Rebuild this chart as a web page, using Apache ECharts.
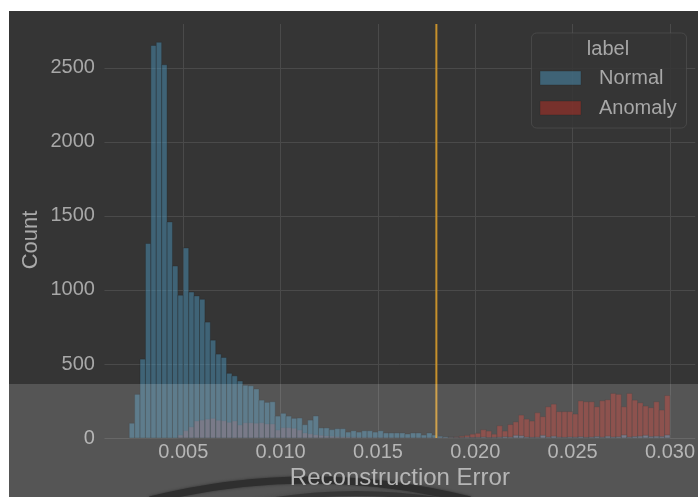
<!DOCTYPE html>
<html>
<head>
<meta charset="utf-8">
<script src="https://cdn.jsdelivr.net/npm/echarts@6/dist/echarts.min.js"></script>
<style>
  html, body { margin: 0; padding: 0; background: #ffffff; }
  #wrap { position: relative; width: 698px; height: 497px; overflow: hidden; }
  #panel { position: absolute; left: 9px; top: 11px; right: 0; bottom: 0; background: #353535; }
  #chart { position: absolute; left: 0; top: 0; width: 698px; height: 497px; }
</style>
</head>
<body>
<div id="wrap"><div id="panel"></div><div id="chart"></div></div>
<script>
// Histogram of reconstruction error, 100 shared bins
const binStart = 0.002222;
const binWidth = 0.0002778;

const normalCounts = [
  100, 295, 533, 1314, 2652, 2674, 2522, 1460, 1162, 965,
  1284, 986, 960, 937, 783, 661, 567, 544, 437, 420,
  385, 356, 353, 331, 256, 241, 245, 148, 167, 148,
  133, 135, 90, 121, 149, 68, 68, 57, 63, 63,
  40, 49, 40, 49, 49, 40, 49, 34, 34, 34,
  34, 27, 34, 34, 20, 34, 20, 12, 8, 4,
  3, 2, 5, 3, 4, 6, 3, 4, 5, 8,
  6, 18, 15, 6, 4, 5, 18, 6, 12, 5,
  4, 6, 5, 8, 4, 6, 10, 5, 12, 6,
  8, 20, 6, 10, 12, 18, 10, 12, 10, 20
];

const anomalyCounts = [
  0, 0, 0, 0, 0, 0, 0, 0, 0, 20,
  50, 75, 115, 121, 128, 133, 120, 117, 106, 115,
  88, 103, 103, 100, 103, 95, 95, 54, 70, 70,
  66, 54, 34, 28, 22, 18, 14, 12, 10, 8,
  7, 6, 5, 5, 4, 4, 3, 3, 3, 2,
  2, 2, 2, 2, 2, 3, 3, 4, 5, 6,
  8, 12, 18, 26, 32, 56, 47, 26, 83, 47,
  91, 109, 155, 128, 115, 171, 144, 211, 229, 178,
  178, 178, 162, 251, 245, 245, 211, 252, 258, 301,
  295, 211, 301, 256, 238, 216, 205, 245, 189, 287
];

const threshold = 0.018;
const seriesNames = ['Normal', 'Anomaly'];
const legendTitle = 'label';
const xAxisTitle = 'Reconstruction Error';
const yAxisTitle = 'Count';

const yMax = 2797;
const normalFill = 'rgba(73,145,183,0.5)';
const anomalyFill = 'rgba(185,45,35,0.5)';
const barEdge = 'rgba(40,40,40,0.45)';
const font = "'Liberation Sans', Arial, sans-serif";

function toBins(counts) {
  const out = [];
  counts.forEach((c, i) => {
    if (c > 0) out.push([binStart + i * binWidth, binStart + (i + 1) * binWidth, c]);
  });
  return out;
}

function binRenderer(fill) {
  return function (params, api) {
    const top = api.coord([api.value(0), api.value(2)]);
    const bottom = api.coord([api.value(1), 0]);
    return {
      type: 'rect',
      shape: { x: top[0], y: top[1], width: bottom[0] - top[0], height: bottom[1] - top[1] },
      style: { fill: fill, stroke: barEdge, lineWidth: 0.8 }
    };
  };
}

// vertical threshold line spanning the full plot height
function thresholdRenderer(params, api) {
  const p0 = api.coord([api.value(0), 0]);
  const p1 = api.coord([api.value(0), yMax]);
  return {
    type: 'line',
    shape: { x1: p0[0], y1: p0[1], x2: p1[0], y2: p1[1] },
    style: { stroke: '#c6902c', lineWidth: 2 }
  };
}

const chart = echarts.init(document.getElementById('chart'), null, { renderer: 'canvas' });

chart.setOption({
  animation: false,
  backgroundColor: 'transparent',
  grid: { left: 104.45, top: 24, width: 590.85, height: 414 },
  xAxis: {
    type: 'value',
    min: 0.00095,
    max: 0.0313,
    splitNumber: 6,
    axisLine: { show: false },
    axisTick: { show: false },
    axisLabel: {
      color: '#a8a8a8', fontSize: 20, fontFamily: font, margin: 4,
      showMinLabel: false, showMaxLabel: false,
      formatter: v => v.toFixed(3)
    },
    splitLine: { show: true, showMinLine: false, showMaxLine: false, lineStyle: { color: '#4a4a4a', width: 1 } }
  },
  yAxis: {
    type: 'value',
    min: 0,
    max: yMax,
    interval: 500,
    axisLine: { show: false },
    axisTick: { show: false },
    axisLabel: {
      color: '#a8a8a8', fontSize: 20, fontFamily: font, margin: 9.5,
      showMaxLabel: false,
      formatter: v => String(v)
    },
    splitLine: { show: true, showMaxLine: false, lineStyle: { color: '#4a4a4a', width: 1 } }
  },
  series: [
    {
      name: seriesNames[1],
      type: 'custom',
      renderItem: binRenderer(anomalyFill),
      data: toBins(anomalyCounts),
      z: 2
    },
    {
      name: seriesNames[0],
      type: 'custom',
      renderItem: binRenderer(normalFill),
      data: toBins(normalCounts),
      z: 3
    },
    {
      name: 'threshold',
      type: 'custom',
      renderItem: thresholdRenderer,
      data: [[threshold]],
      z: 4,
      silent: true
    }
  ],
  graphic: [
    // legend frame
    {
      type: 'rect', z: 20,
      shape: { x: 531.5, y: 33, width: 155, height: 95, r: 5 },
      style: { fill: 'rgba(53,53,53,0.85)', stroke: 'rgba(85,85,85,0.6)', lineWidth: 1 }
    },
    {
      type: 'text', z: 21, x: 608, y: 49,
      style: { text: legendTitle, fill: '#a8a8a8', font: '20px ' + font, align: 'center', verticalAlign: 'middle' }
    },
    {
      type: 'rect', z: 21,
      shape: { x: 540, y: 71, width: 41, height: 14 },
      style: { fill: normalFill, stroke: barEdge, lineWidth: 0.8 }
    },
    {
      type: 'text', z: 21, x: 599, y: 78,
      style: { text: seriesNames[0], fill: '#a8a8a8', font: '20px ' + font, align: 'left', verticalAlign: 'middle' }
    },
    {
      type: 'rect', z: 21,
      shape: { x: 540, y: 101, width: 41, height: 14 },
      style: { fill: anomalyFill, stroke: barEdge, lineWidth: 0.8 }
    },
    {
      type: 'text', z: 21, x: 599, y: 108,
      style: { text: seriesNames[1], fill: '#a8a8a8', font: '20px ' + font, align: 'left', verticalAlign: 'middle' }
    },
    // y axis title
    {
      type: 'text', z: 21, x: 31, y: 240, rotation: Math.PI / 2,
      style: { text: yAxisTitle, fill: '#aaaaaa', font: '22px ' + font, align: 'center', verticalAlign: 'middle' }
    },
    // light band across the lower part of the figure
    {
      type: 'rect', z: 100, silent: true,
      shape: { x: 9, y: 384, width: 689, height: 113 },
      style: { fill: 'rgba(255,255,255,0.16)' }
    },
    // dark curved strokes near the bottom edge
    {
      type: 'bezierCurve', z: 110, silent: true,
      shape: { x1: 150, y1: 500, x2: 470, y2: 500, cpx1: 310, cpy1: 460 },
      style: { stroke: '#2f2f2f', lineWidth: 7, fill: null, shadowBlur: 3, shadowColor: 'rgba(40,40,40,0.8)' }
    },
    {
      type: 'bezierCurve', z: 109, silent: true,
      shape: { x1: 255, y1: 503, x2: 460, y2: 503, cpx1: 355, cpy1: 484 },
      style: { stroke: 'rgba(50,50,50,0.8)', lineWidth: 5, fill: null, shadowBlur: 4, shadowColor: 'rgba(50,50,50,0.6)' }
    },
    // x axis title
    {
      type: 'text', z: 120, x: 399.9, y: 478.6,
      style: { text: xAxisTitle, fill: '#b6b6b6', font: '24px ' + font, align: 'center', verticalAlign: 'middle' }
    }
  ]
});
</script>
</body>
</html>
